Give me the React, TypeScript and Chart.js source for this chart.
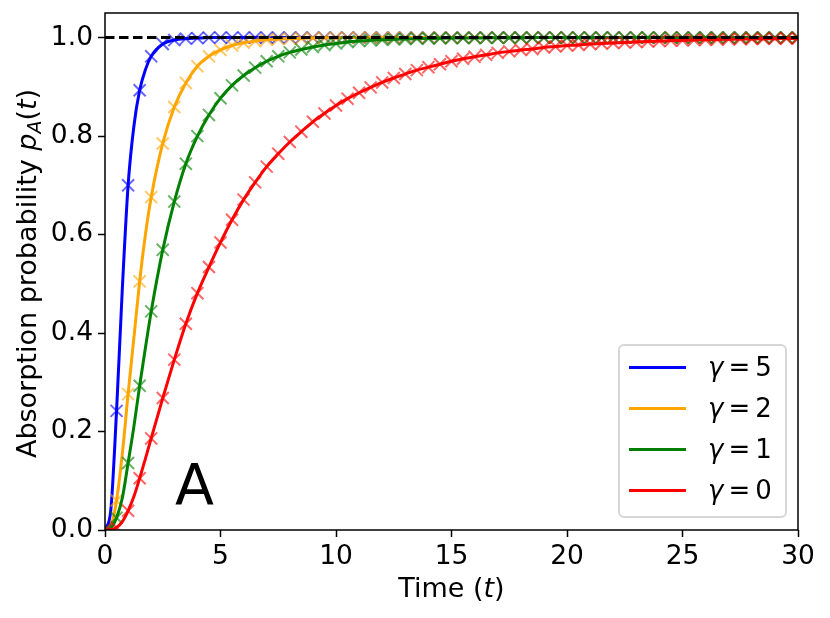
import React, { useEffect, useRef } from "react";
import { Chart, registerables } from "chart.js";

Chart.register(...registerables);

// ---- data ----
const times = [
  0, 0.5, 1, 1.5, 2, 2.5, 3, 3.5, 4, 4.5,
  5, 5.5, 6, 6.5, 7, 7.5, 8, 8.5, 9, 9.5,
  10, 10.5, 11, 11.5, 12, 12.5, 13, 13.5, 14, 14.5,
  15, 15.5, 16, 16.5, 17, 17.5, 18, 18.5, 19, 19.5,
  20, 20.5, 21, 21.5, 22, 22.5, 23, 23.5, 24, 24.5,
  25, 25.5, 26, 26.5, 27, 27.5, 28, 28.5, 29, 29.5,
  30,
];

const gamma5 = [
  0, 0.242, 0.7, 0.893, 0.962, 0.987, 0.995, 0.998, 0.999, 1,
  1, 1, 1, 1, 1, 1, 1, 1, 1, 1,
  1, 1, 1, 1, 1, 1, 1, 1, 1, 1,
  1, 1, 1, 1, 1, 1, 1, 1, 1, 1,
  1, 1, 1, 1, 1, 1, 1, 1, 1, 1,
  1, 1, 1, 1, 1, 1, 1, 1, 1, 1,
  1,
];

const gamma2 = [
  0, 0.06, 0.276, 0.505, 0.676, 0.785, 0.859, 0.908, 0.942, 0.962,
  0.975, 0.984, 0.9895, 0.993, 0.9956, 0.997, 0.998, 0.9988, 0.9992, 0.9995,
  0.9997, 1, 1, 1, 1, 1, 1, 1, 1, 1,
  1, 1, 1, 1, 1, 1, 1, 1, 1, 1,
  1, 1, 1, 1, 1, 1, 1, 1, 1, 1,
  1, 1, 1, 1, 1, 1, 1, 1, 1, 1,
  1,
];

const gamma1 = [
  0, 0.025, 0.136, 0.293, 0.444, 0.569, 0.667, 0.744, 0.8, 0.843,
  0.877, 0.903, 0.923, 0.939, 0.952, 0.962, 0.97, 0.976, 0.981, 0.985,
  0.988, 0.991, 0.993, 0.9945, 0.9957, 0.9966, 0.9973, 0.9979, 0.9983, 0.9987,
  0.999, 0.9992, 0.9994, 0.9995, 0.9996, 0.9997, 0.9998, 1, 1, 1,
  1, 1, 1, 1, 1, 1, 1, 1, 1, 1,
  1, 1, 1, 1, 1, 1, 1, 1, 1, 1,
  1,
];

const gamma0 = [
  0, 0.005, 0.039, 0.105, 0.186, 0.268, 0.346, 0.419, 0.481, 0.534,
  0.584, 0.63, 0.671, 0.706, 0.738, 0.764, 0.788, 0.809, 0.829, 0.846,
  0.862, 0.876, 0.888, 0.899, 0.909, 0.918, 0.926, 0.934, 0.94, 0.946,
  0.952, 0.957, 0.961, 0.965, 0.969, 0.972, 0.975, 0.977, 0.98, 0.982,
  0.984, 0.985, 0.987, 0.988, 0.989, 0.99, 0.991, 0.992, 0.993, 0.994,
  0.9945, 0.995, 0.9955, 0.996, 0.9965, 0.997, 0.9973, 0.9976, 0.9979, 0.9981,
  0.9983,
];

// extra points on the smooth curves in the steep start
const extraTimes = [0.25, 0.75, 1.25, 1.75];
const gamma5Extra = [0.04, 0.49, 0.82, 0.935];
const gamma2Extra = [0.008, 0.155, 0.39, 0.6];
const gamma1Extra = [0.004, 0.065, 0.21, 0.37];
const gamma0Extra = [0.001, 0.017, 0.068, 0.145];

const gammaLabels = ["5", "2", "1", "0"];
const lineColors = ["#0000ff", "#ffa500", "#008000", "#ff0000"];
const markerColors = [
  "rgba(0,0,255,0.6)",
  "rgba(255,165,0,0.6)",
  "rgba(0,128,0,0.6)",
  "rgba(255,0,0,0.6)",
];

const xTicks = [0, 5, 10, 15, 20, 25, 30];
const yTicks = [0, 0.2, 0.4, 0.6, 0.8, 1.0];
const asymptote = 1;

const FONT = "'DejaVu Sans', sans-serif";

function pts(xs: number[], ys: number[]) {
  return xs.map((x, i) => ({ x, y: ys[i] }));
}

function curve(ys: number[], extra: number[]) {
  return [...pts(times, ys), ...pts(extraTimes, extra)].sort((a, b) => a.x - b.x);
}

function drawPieces(
  ctx: CanvasRenderingContext2D,
  pieces: { t: string; f: string; dy?: number }[],
  startX: number,
  baseY: number
) {
  let x = startX;
  for (const p of pieces) {
    ctx.font = p.f;
    ctx.fillText(p.t, x, baseY + (p.dy || 0));
    x += ctx.measureText(p.t).width;
  }
}

function piecesWidth(ctx: CanvasRenderingContext2D, pieces: { t: string; f: string }[]) {
  let w = 0;
  for (const p of pieces) {
    ctx.font = p.f;
    w += ctx.measureText(p.t).width;
  }
  return w;
}

const decorations = {
  id: "decorations",
  afterDraw(chart: any) {
    const { ctx, chartArea: ca } = chart;
    ctx.save();
    // frame
    ctx.strokeStyle = "#000";
    ctx.lineWidth = 1.5;
    ctx.strokeRect(ca.left, ca.top, ca.right - ca.left, ca.bottom - ca.top);

    ctx.fillStyle = "#000";
    ctx.textAlign = "left";
    ctx.textBaseline = "alphabetic";

    // y axis title
    const reg = `27px ${FONT}`;
    const ita = `italic 27px ${FONT}`;
    const yPieces = [
      { t: "Absorption probability ", f: reg },
      { t: "p", f: ita },
      { t: "A", f: `italic 19px ${FONT}`, dy: 5 },
      { t: "(", f: reg },
      { t: "t", f: ita },
      { t: ")", f: reg },
    ];
    const yw = piecesWidth(ctx, yPieces);
    ctx.save();
    ctx.translate(36, (ca.top + ca.bottom) / 2 + 2);
    ctx.rotate(-Math.PI / 2);
    drawPieces(ctx, yPieces, -yw / 2, 0);
    ctx.restore();

    // x axis title
    const xPieces = [
      { t: "Time (", f: reg },
      { t: "t", f: ita },
      { t: ")", f: reg },
    ];
    const xw = piecesWidth(ctx, xPieces);
    drawPieces(ctx, xPieces, (ca.left + ca.right) / 2 - xw / 2, 597);

    // panel letter
    ctx.font = `57px ${FONT}`;
    ctx.fillText("A", ca.left + 70, ca.bottom - 25);

    // legend
    const lx0 = ca.right - 179;
    const ly0 = ca.bottom - 185;
    const lw = 167;
    const lh = 172;
    const small = `26px ${FONT}`;
    const smallIta = `italic 26px ${FONT}`;
    ctx.beginPath();
    ctx.roundRect(lx0, ly0, lw, lh, 5);
    ctx.fillStyle = "rgba(255,255,255,0.8)";
    ctx.fill();
    ctx.strokeStyle = "#d6d6d6";
    ctx.lineWidth = 2;
    ctx.stroke();
    for (let i = 0; i < gammaLabels.length; i++) {
      const y = ly0 + 22.5 + 41 * i;
      ctx.strokeStyle = lineColors[i];
      ctx.lineWidth = 3;
      ctx.beginPath();
      ctx.moveTo(lx0 + 10, y);
      ctx.lineTo(lx0 + 67, y);
      ctx.stroke();
      ctx.fillStyle = "#000";
      let tx = lx0 + 89;
      ctx.font = smallIta;
      ctx.fillText("γ", tx, y + 8);
      tx += ctx.measureText("γ").width + 5;
      ctx.font = small;
      ctx.fillText("=", tx, y + 8);
      tx += ctx.measureText("=").width + 5;
      ctx.fillText(gammaLabels[i], tx, y + 8);
    }
    ctx.restore();
  },
};

export default function App() {
  const ref = useRef<HTMLCanvasElement | null>(null);

  useEffect(() => {
    document.body.style.margin = "0";
    if (!ref.current) return;
    const series = [gamma5, gamma2, gamma1, gamma0];
    const extras = [gamma5Extra, gamma2Extra, gamma1Extra, gamma0Extra];
    const datasets: any[] = [];
    series.forEach((ys, i) => {
      const rank = 3 - i; // later series on top
      datasets.push({
        label: "line" + i,
        data: curve(ys, extras[i]),
        borderColor: lineColors[i],
        backgroundColor: lineColors[i],
        borderWidth: 3,
        pointRadius: 0,
        cubicInterpolationMode: "monotone",
        fill: false,
        order: rank * 2 + 2,
      });
      datasets.push({
        label: "markers" + i,
        data: pts(times, ys),
        showLine: false,
        pointStyle: "crossRot",
        pointRadius: 8.5,
        pointBorderWidth: 2,
        borderColor: markerColors[i],
        backgroundColor: markerColors[i],
        order: rank * 2 + 1,
      });
    });
    datasets.push({
      label: "asymptote",
      data: [
        { x: xTicks[0], y: asymptote },
        { x: xTicks[xTicks.length - 1], y: asymptote },
      ],
      borderColor: "#000",
      borderWidth: 3,
      borderDash: [9.5, 4.5],
      pointRadius: 0,
      fill: false,
      order: 0,
    });

    const chart = new Chart(ref.current, {
      type: "line",
      data: { datasets },
      options: {
        animation: false,
        responsive: true,
        maintainAspectRatio: false,
        events: [],
        layout: { padding: { top: 13, right: 32, left: 0, bottom: 0 } },
        plugins: { legend: { display: false }, tooltip: { enabled: false } },
        scales: {
          x: {
            type: "linear",
            min: 0,
            max: 30,
            afterBuildTicks: (s: any) => {
              s.ticks = xTicks.map((v) => ({ value: v }));
            },
            afterFit: (s: any) => {
              s.height = 88;
              s.paddingLeft = 0;
              s.paddingRight = 0;
            },
            grid: {
              drawOnChartArea: false,
              drawTicks: true,
              tickLength: 7,
              tickWidth: 1.5,
              tickColor: "#000",
            },
            border: { display: false },
            ticks: {
              color: "#000",
              font: { family: FONT, size: 26.5 },
              padding: 4,
              maxRotation: 0,
              autoSkip: false,
              callback: (v: any) => String(v),
            },
          },
          y: {
            type: "linear",
            min: 0,
            max: 1.05,
            afterBuildTicks: (s: any) => {
              s.ticks = yTicks.map((v) => ({ value: v }));
            },
            afterFit: (s: any) => {
              s.width = 105;
              s.paddingTop = 0;
              s.paddingBottom = 0;
            },
            grid: {
              drawOnChartArea: false,
              drawTicks: true,
              tickLength: 7,
              tickWidth: 1.5,
              tickColor: "#000",
            },
            border: { display: false },
            ticks: {
              color: "#000",
              font: { family: FONT, size: 26.5 },
              padding: 5,
              autoSkip: false,
              callback: (v: any) => Number(v).toFixed(1),
            },
          },
        },
      },
      plugins: [decorations],
    });
    return () => chart.destroy();
  }, []);

  return (
    <div style={{ position: "absolute", left: 0, top: 0, width: 830, height: 618 }}>
      <canvas ref={ref} />
    </div>
  );
}
